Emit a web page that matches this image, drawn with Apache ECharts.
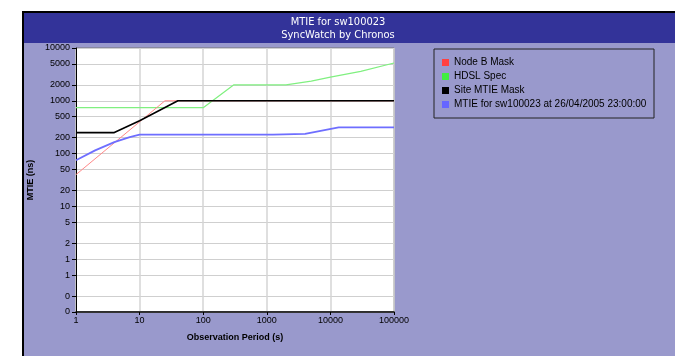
<!DOCTYPE html>
<html><head><meta charset="utf-8">
<script src="https://cdn.jsdelivr.net/npm/echarts@6/dist/echarts.min.js"></script>
<style>html,body{margin:0;padding:0;background:#fff}#c{width:675px;height:356px}</style>
</head><body><div id="c"></div>
<script>
// ---- data ----
const titleLines = ['MTIE for sw100023', 'SyncWatch by Chronos'];
const seriesNames = ['Node B Mask', 'HDSL Spec', 'Site MTIE Mask', 'MTIE for sw100023 at 26/04/2005 23:00:00'];
const yTicks = [0.1, 0.2, 0.5, 1, 2, 5, 10, 20, 50, 100, 200, 500, 1000, 2000, 5000, 10000];
const xTicks = [1, 10, 100, 1000, 10000, 100000];

const nodeBX = [1, 25, 100000];
const nodeBY = [40, 1000, 1000];

const hdslX = [1, 100, 300, 2000, 5000, 10000, 30000, 100000];
const hdslY = [740, 740, 2000, 2000, 2350, 2800, 3600, 5200];

const siteX = [1, 4, 10, 40, 100000];
const siteY = [250, 250, 420, 1000, 1000];

const mtieX = [1, 2, 4, 7, 10, 1250, 1300, 4000, 13500, 100000];
const mtieY = [75, 115, 165, 205, 228, 228, 233, 236, 313, 313];

const legendColors = ['#ff4040', '#40ee40', '#000000', '#6666ff'];
const lineColors = ['#ff8888', '#80f080', '#000000', '#6e6eff'];
const lineWidths = [1, 1.2, 1.6, 1.8];

function pairs(xs, ys) { return xs.map((x, i) => [x, ys[i]]); }
const dataSets = [pairs(nodeBX, nodeBY), pairs(hdslX, hdslY), pairs(siteX, siteY), pairs(mtieX, mtieY)];

const chart = echarts.init(document.getElementById('c'), null, {renderer: 'canvas'});
const fontFam = '"Liberation Sans", Arial, sans-serif';
const narrowFam = '"Liberation Sans Narrow", "Arial Narrow", "DejaVu Sans Condensed", sans-serif';

chart.setOption({
  animation: false,
  backgroundColor: '#ffffff',
  graphic: [
    {type: 'rect', z: -10, shape: {x: 23, y: 12, width: 660, height: 350},
     style: {fill: '#9999cc', stroke: '#000', lineWidth: 2}},
    {type: 'rect', z: -9, shape: {x: 24, y: 13, width: 660, height: 30},
     style: {fill: '#333399'}},
    {type: 'rect', z: -8, shape: {x: 434, y: 49, width: 220, height: 69},
     style: {fill: '#9999cc', stroke: '#222', lineWidth: 1}}
  ],
  title: {
    text: titleLines.join('\n'),
    left: 338, top: 16, textAlign: 'center', padding: 0,
    textStyle: {color: '#fff', fontSize: 11, fontWeight: 'normal', fontFamily: narrowFam, lineHeight: 13}
  },
  legend: {
    orient: 'vertical', left: 442, top: 56,
    icon: 'rect', itemWidth: 7, itemHeight: 7, itemGap: 1,
    padding: 0,
    textStyle: {fontSize: 10, color: '#000', fontFamily: fontFam, padding: [0, 0, 0, 0], lineHeight: 13},
    data: seriesNames
  },
  grid: {left: 76, top: 48, right: 281, bottom: 44, show: true, backgroundColor: '#fff',
         borderColor: '#777', borderWidth: 1},
  xAxis: {
    type: 'log', logBase: 10, min: 1, max: 100000,
    name: 'Observation Period (s)', nameLocation: 'middle', nameGap: 21,
    nameTextStyle: {fontSize: 9, fontWeight: 'bold', color: '#000', fontFamily: fontFam},
    axisLine: {lineStyle: {color: '#000', width: 1.5}},
    axisTick: {show: true, length: 3, lineStyle: {color: '#000'}, customValues: xTicks},
    axisLabel: {fontSize: 9, color: '#000', fontFamily: fontFam, margin: 4, customValues: xTicks,
                formatter: v => String(Math.round(v))},
    splitLine: {show: true, lineStyle: {color: '#d4d4d4', width: 1.5}},
    minorTick: {show: false}
  },
  yAxis: {
    type: 'log', logBase: 10, min: 0.1, max: 10000,
    name: 'MTIE (ns)', nameLocation: 'middle', nameGap: 41, nameRotate: 90,
    nameTextStyle: {fontSize: 9, fontWeight: 'bold', color: '#000', fontFamily: fontFam},
    axisLine: {lineStyle: {color: '#000', width: 1}},
    axisTick: {show: true, length: 4, lineStyle: {color: '#000'}, customValues: yTicks},
    axisLabel: {fontSize: 9, color: '#000', fontFamily: fontFam, margin: 6, customValues: yTicks,
                formatter: v => String(Math.round(v + 1e-9))},
    splitLine: {show: true, lineStyle: {color: '#cfcfcf', width: 1}}
  },
  series: seriesNames.map((n, i) => ({
    name: n, type: 'line', data: dataSets[i], showSymbol: false, symbol: 'none',
    itemStyle: {color: legendColors[i]},
    lineStyle: {color: lineColors[i], width: lineWidths[i]},
    z: [3, 2, 4, 5][i]
  }))
});
</script></body></html>
